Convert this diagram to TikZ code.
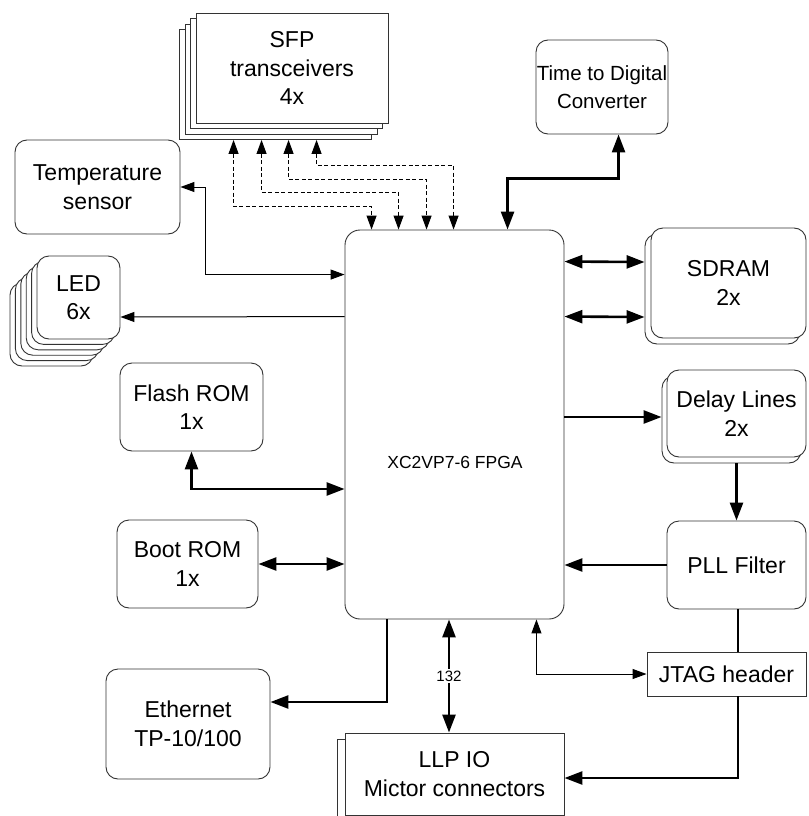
\documentclass[tikz,border=0pt]{standalone}
\usepackage{fontspec}
\setmainfont{Liberation Sans}
\usetikzlibrary{arrows.meta}
\begin{document}
\begin{tikzpicture}[x=1pt,y=-1pt,
  TK/.tip={Triangle[length=18pt,width=13pt]},
  TN/.tip={Triangle[length=14pt,width=10pt]},
  bx/.style={draw=black!80,line width=0.9pt,fill=white,align=center,inner sep=0pt,
    font=\fontsize{23}{28.5}\selectfont},
  rbox/.style={bx,rounded corners=12pt},
  sbox/.style={bx},
  tk/.style={line width=2.6pt},
  tn/.style={line width=1pt},
  dsh/.style={line width=1pt,dash pattern=on 4pt off 2.5pt,{TN}-{TN}},
  small/.style={font=\fontsize{15}{18}\selectfont,fill=white,inner sep=1.5pt}
]
\useasboundingbox (0,0) rectangle (808,816);

% SFP stack
\node[sbox,minimum width=192,minimum height=110] (sfp3) at (275.5,84.5) {};
\node[sbox,minimum width=192,minimum height=110] (sfp2) at (281,79) {};
\node[sbox,minimum width=192,minimum height=110] (sfp1) at (286.5,73.5) {};
\node[sbox,minimum width=192,minimum height=110] (sfp) at (292,68) {SFP\\transceivers\\4x};

% Time to Digital Converter
\node[rbox,minimum width=132,minimum height=94,font=\fontsize{20.5}{28.5}\selectfont] (tdc) at (602,87) {Time to Digital\\Converter};

% Temperature sensor
\node[rbox,minimum width=165,minimum height=94] (ts) at (97.5,187) {Temperature\\sensor};

% LED stack
\foreach \k in {5,4,...,1}{
  \node[rbox,minimum width=83,minimum height=83] (led\k) at (78.5-5.4*\k,297.5+5.4*\k) {};
}
\node[rbox,minimum width=83,minimum height=83] (led) at (78.5,297.5) {LED\\6x};

% FPGA
\node[rbox,rounded corners=15pt,minimum width=219,minimum height=389] (fpga) at (454.5,424.5) {};
\node[font=\fontsize{17.5}{22}\selectfont,inner sep=0pt] (fpgalbl) at (455,462) {XC2VP7-6 FPGA};

% SDRAM
\node[rbox,minimum width=155,minimum height=110] (sdram1) at (722.5,289) {};
\node[rbox,minimum width=155,minimum height=110] (sdram) at (728.5,283) {SDRAM\\2x};

% Delay lines
\node[rbox,minimum width=139,minimum height=87] (dly1) at (731.5,419.5) {};
\node[rbox,minimum width=139,minimum height=87] (dly) at (736.5,413.5) {Delay Lines\\2x};

% PLL filter
\node[rbox,minimum width=139,minimum height=88] (pll) at (736.5,565) {PLL Filter};

% JTAG header
\node[sbox,minimum width=159,minimum height=44] (jtag) at (726.5,674) {JTAG header};

% LLP IO
\node[sbox,minimum width=219,minimum height=82] (llp1) at (446.5,780) {};
\node[sbox,minimum width=219,minimum height=82] (llp) at (454.5,774) {LLP IO\\Mictor connectors};

% Ethernet
\node[rbox,minimum width=164,minimum height=110] (eth) at (188,724) {Ethernet\\TP-10/100};

% Flash ROM
\node[rbox,minimum width=143,minimum height=88] (flash) at (191.5,407) {Flash ROM\\1x};

% Boot ROM
\node[rbox,minimum width=141,minimum height=88] (boot) at (187.5,564) {Boot ROM\\1x};

% ---- connectors ----
% SFP dashed links
\draw[dsh] ([xshift=54.5]sfp3.south west) -- ++(0,66.5) -| ([xshift=27]fpga.north west);
\draw[dsh] ([xshift=82.5]sfp3.south west) -- ++(0,52.5) -| ([xshift=54]fpga.north west);
\draw[dsh] ([xshift=109.5]sfp3.south west) -- ++(0,39.5) -| ([xshift=82]fpga.north west);
\draw[dsh] ([xshift=137.5]sfp3.south west) -- ++(0,25.5) -| ([xshift=109]fpga.north west);

% TDC
\draw[tk,{TK}-{TK}] ([xshift=163]fpga.north west) -- ++(0,-51) -| ([xshift=83]tdc.south west);

% Temperature sensor
\draw[tn,{TN}-{TN}] (ts.east) -- ++(25,0) |- ([yshift=-45]fpga.north west);

% LED
\draw[tn,-{TN}] ([yshift=-87]fpga.north west) -- ([yshift=-19.5]led.east);

% SDRAM
\draw[tk,{TK}-{TK}] ([yshift=-32]fpga.north east) -- ([yshift=27]sdram1.west);
\draw[tk,{TK}-{TK}] ([yshift=-87]fpga.north east) -- ([yshift=-28]sdram1.west);

% Delay lines
\draw[tk,-{TK}] ([yshift=2.5]dly1.west -| fpga.east) -- ([yshift=2.5]dly1.west);
\draw[tk,-{TK}] ([xshift=5]dly1.south) -- ([xshift=5]dly1.south |- pll.north);

% PLL -> FPGA
\draw[tk,-{TK}] (pll.west) -- (pll.west -| fpga.east);

% PLL -- JTAG
\draw[line width=1.6pt] ([xshift=1.5]pll.south) -- ++(0,43);

% JTAG -> FPGA
\draw[tn,{TN}-{TN}] (jtag.west) -| ([xshift=-28]fpga.south east);

% JTAG -> LLP
\draw[tk,-{TK}] ([xshift=11.5]jtag.south) |- ([yshift=-4]llp.east);

% 132 bus
\draw[tk,{TK}-{TK}] ([xshift=-5.5]fpga.south) -- node[small] (bus) {132} ([xshift=-5.5]llp.north);

% Ethernet
\draw[tk,-{TK}] ([xshift=-67.5]fpga.south) |- ([yshift=22]eth.east);

% Flash
\draw[tk,{TK}-{TK}] (flash.south) |- ([yshift=-64.5]fpga.west);

% Boot
\draw[tk,{TK}-{TK}] (boot.east) -- (boot.east -| fpga.west);

\end{tikzpicture}
\end{document}
